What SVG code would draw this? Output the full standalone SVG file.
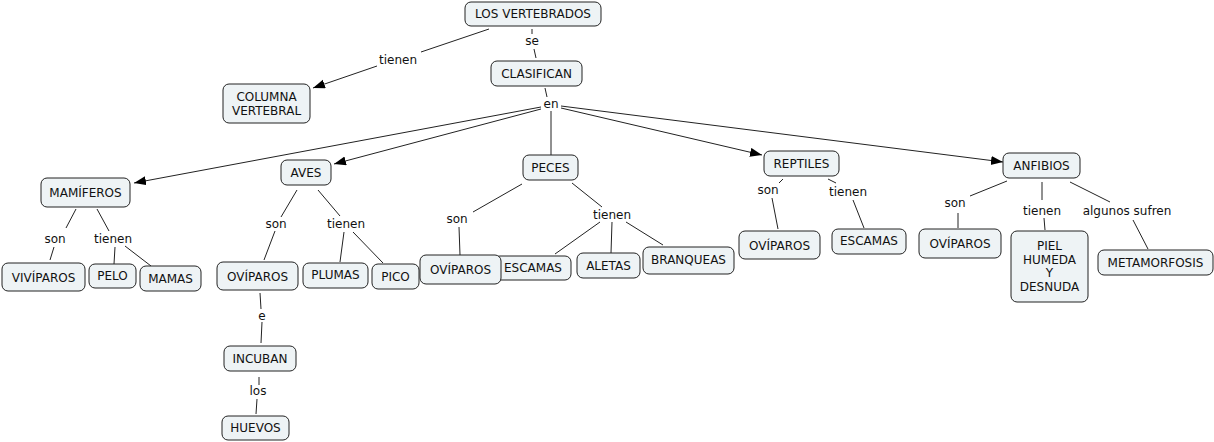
<svg xmlns="http://www.w3.org/2000/svg" width="1214" height="442" viewBox="0 0 1214 442">
<style>
.n rect{fill:#eef3f5;stroke:#222;stroke-width:1}
text{font-family:"DejaVu Sans",Verdana,sans-serif;font-size:12px;fill:#111;text-anchor:middle}
.c line{stroke:#222;stroke-width:1}
</style>
<defs>
<marker id="ah" markerUnits="userSpaceOnUse" markerWidth="13" markerHeight="10" refX="12" refY="4.5" orient="auto">
<path d="M0,0 L12,4.5 L0,9 z" fill="#000"/>
</marker>
</defs>
<rect width="1214" height="442" fill="#fff"/>
<g id="connectors" class="c">
<line x1="489" y1="29" x2="421" y2="52"/>
<line x1="377" y1="66" x2="313" y2="88" marker-end="url(#ah)"/>
<line x1="532" y1="29" x2="532" y2="34"/>
<line x1="534" y1="49" x2="536" y2="58"/>
<line x1="545" y1="88" x2="547" y2="97"/>
<line x1="541" y1="107" x2="134" y2="183" marker-end="url(#ah)"/>
<line x1="541" y1="109" x2="334" y2="164" marker-end="url(#ah)"/>
<line x1="551" y1="111" x2="551" y2="155"/>
<line x1="561" y1="108" x2="762" y2="155" marker-end="url(#ah)"/>
<line x1="561" y1="106" x2="1003" y2="162" marker-end="url(#ah)"/>
<line x1="76" y1="209" x2="66" y2="228"/>
<line x1="54" y1="247" x2="50" y2="260"/>
<line x1="97" y1="209" x2="109" y2="231"/>
<line x1="115" y1="247" x2="114" y2="264"/>
<line x1="125" y1="246" x2="151" y2="266"/>
<line x1="297" y1="190" x2="281" y2="217"/>
<line x1="275" y1="231" x2="264" y2="260"/>
<line x1="318" y1="190" x2="340" y2="216"/>
<line x1="344" y1="232" x2="340" y2="262"/>
<line x1="353" y1="232" x2="383" y2="263"/>
<line x1="260" y1="293" x2="261" y2="309"/>
<line x1="262" y1="322" x2="261" y2="343"/>
<line x1="259" y1="377" x2="259" y2="385"/>
<line x1="257" y1="399" x2="256" y2="414"/>
<line x1="522" y1="184" x2="473" y2="212"/>
<line x1="459" y1="227" x2="460" y2="255"/>
<line x1="572" y1="183" x2="602" y2="207"/>
<line x1="600" y1="222" x2="555" y2="254"/>
<line x1="612" y1="222" x2="611" y2="253"/>
<line x1="626" y1="222" x2="663" y2="245"/>
<line x1="783" y1="179" x2="779" y2="183"/>
<line x1="772" y1="198" x2="778" y2="229"/>
<line x1="828" y1="179" x2="836" y2="183"/>
<line x1="853" y1="200" x2="864" y2="228"/>
<line x1="1007" y1="181" x2="970" y2="196"/>
<line x1="958" y1="213" x2="958" y2="228"/>
<line x1="1042" y1="182" x2="1042" y2="200"/>
<line x1="1044" y1="218" x2="1045" y2="230"/>
<line x1="1070" y1="182" x2="1110" y2="202"/>
<line x1="1133" y1="220" x2="1148" y2="249"/>
</g>
<g id="labels">
<text x="532" y="45">se</text>
<text x="398" y="64">tienen</text>
<text x="551" y="108">en</text>
<text x="55" y="243">son</text>
<text x="113" y="243">tienen</text>
<text x="276" y="228">son</text>
<text x="346" y="228">tienen</text>
<text x="262" y="320">e</text>
<text x="258" y="395">los</text>
<text x="457" y="223">son</text>
<text x="612" y="219">tienen</text>
<text x="768" y="194">son</text>
<text x="848" y="196">tienen</text>
<text x="955" y="207">son</text>
<text x="1042" y="215">tienen</text>
<text x="1127" y="215">algunos sufren</text>
</g>
<g id="n-vertebrados" class="n"><rect x="465" y="2" width="136" height="24" rx="6"/><text x="533" y="18">LOS VERTEBRADOS</text></g>
<g id="n-clasifican" class="n"><rect x="491" y="61" width="91" height="25" rx="6"/><text x="536.5" y="78">CLASIFICAN</text></g>
<g id="n-columna" class="n"><rect x="223" y="84" width="87" height="39" rx="6"/><text x="266.5" y="101">COLUMNA</text><text x="266.5" y="115">VERTEBRAL</text></g>
<g id="n-mamiferos" class="n"><rect x="41" y="178" width="89" height="29" rx="6"/><text x="85.5" y="197">MAMÍFEROS</text></g>
<g id="n-aves" class="n"><rect x="281" y="160" width="50" height="25" rx="6"/><text x="306" y="177">AVES</text></g>
<g id="n-peces" class="n"><rect x="523" y="155" width="55" height="25" rx="6"/><text x="550.5" y="172">PECES</text></g>
<g id="n-reptiles" class="n"><rect x="764" y="151" width="75" height="25" rx="6"/><text x="801.5" y="168">REPTILES</text></g>
<g id="n-anfibios" class="n"><rect x="1003" y="153" width="77" height="25" rx="6"/><text x="1041.5" y="170">ANFIBIOS</text></g>
<g id="n-viviparos" class="n"><rect x="2" y="263" width="83" height="28" rx="6"/><text x="43.5" y="282">VIVÍPAROS</text></g>
<g id="n-pelo" class="n"><rect x="89" y="264" width="47" height="24" rx="6"/><text x="112.5" y="280">PELO</text></g>
<g id="n-mamas" class="n"><rect x="140" y="266" width="61" height="25" rx="6"/><text x="170.5" y="283">MAMAS</text></g>
<g id="n-oviparos-aves" class="n"><rect x="217" y="262" width="81" height="28" rx="6"/><text x="257.5" y="281">OVÍPAROS</text></g>
<g id="n-plumas" class="n"><rect x="303" y="263" width="65" height="25" rx="6"/><text x="335.5" y="279">PLUMAS</text></g>
<g id="n-pico" class="n"><rect x="372" y="264" width="47" height="25" rx="6"/><text x="395.5" y="281">PICO</text></g>
<g id="n-incuban" class="n"><rect x="224" y="346" width="72" height="25" rx="6"/><text x="260" y="363">INCUBAN</text></g>
<g id="n-huevos" class="n"><rect x="222" y="416" width="67" height="24" rx="6"/><text x="255.5" y="432">HUEVOS</text></g>
<g id="n-escamas-peces" class="n"><rect x="494" y="256" width="77" height="24" rx="6"/><text x="533" y="272">ESCAMAS</text></g>
<g id="n-oviparos-peces" class="n"><rect x="420" y="255" width="81" height="29" rx="6"/><text x="460.5" y="274">OVÍPAROS</text></g>
<g id="n-aletas" class="n"><rect x="577" y="253" width="63" height="25" rx="6"/><text x="608.5" y="270">ALETAS</text></g>
<g id="n-branqueas" class="n"><rect x="643" y="247" width="91" height="27" rx="6"/><text x="688.5" y="264">BRANQUEAS</text></g>
<g id="n-oviparos-reptiles" class="n"><rect x="739" y="231" width="81" height="28" rx="6"/><text x="779.5" y="250">OVÍPAROS</text></g>
<g id="n-escamas-reptiles" class="n"><rect x="832" y="229" width="74" height="25" rx="6"/><text x="869" y="245">ESCAMAS</text></g>
<g id="n-oviparos-anfibios" class="n"><rect x="919" y="229" width="82" height="29" rx="6"/><text x="960" y="248">OVÍPAROS</text></g>
<g id="n-piel" class="n"><rect x="1011" y="231" width="77" height="71" rx="6"/><text x="1049.5" y="250">PIEL</text><text x="1049.5" y="264">HUMEDA</text><text x="1049.5" y="277">Y</text><text x="1049.5" y="291">DESNUDA</text></g>
<g id="n-metamorfosis" class="n"><rect x="1098" y="250" width="115" height="25" rx="6"/><text x="1155.5" y="267">METAMORFOSIS</text></g>
</svg>
